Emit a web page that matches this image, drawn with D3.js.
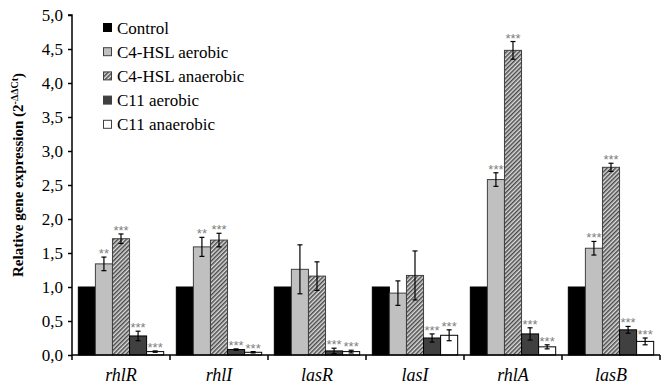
<!DOCTYPE html>
<html><head><meta charset="utf-8">
<script src="https://cdn.jsdelivr.net/npm/d3@7"></script>
<style>body{margin:0;background:#fff}svg{display:block}
.serif{font-family:"Liberation Serif","Times New Roman",serif}</style>
</head><body>
<svg id="chart" width="661" height="386"></svg>
<script>
const genes = ["rhlR","rhlI","lasR","lasI","rhlA","lasB"];
const seriesNames = ["Control","C4-HSL aerobic","C4-HSL anaerobic","C11 aerobic","C11 anaerobic"];
const control     = [1.00,1.00,1.00,1.00,1.00,1.00];
const c4Aerobic   = [1.34,1.59,1.26,0.91,2.58,1.57];
const c4Anaerobic = [1.71,1.69,1.16,1.17,4.48,2.76];
const c11Aerobic  = [0.28,0.08,0.06,0.25,0.31,0.37];
const c11Anaerobic= [0.05,0.04,0.05,0.29,0.12,0.20];
const errControl  = [0,0,0,0,0,0];
const errC4Aer    = [0.10,0.14,0.36,0.18,0.10,0.10];
const errC4Ana    = [0.07,0.10,0.21,0.36,0.13,0.06];
const errC11Aer   = [0.07,0.01,0.04,0.06,0.09,0.05];
const errC11Ana   = [0.01,0.01,0.02,0.08,0.03,0.05];
const sigControl  = ["","","","","",""];
const sigC4Aer    = ["**","**","","","***","***"];
const sigC4Ana    = ["***","***","","","***","***"];
const sigC11Aer   = ["***","***","***","***","***","***"];
const sigC11Ana   = ["***","***","***","***","***","***"];
const yTicks = [0,0.5,1,1.5,2,2.5,3,3.5,4,4.5,5];

const values = [control,c4Aerobic,c4Anaerobic,c11Aerobic,c11Anaerobic];
const errors = [errControl,errC4Aer,errC4Ana,errC11Aer,errC11Ana];
const sigs = [sigControl,sigC4Aer,sigC4Ana,sigC11Aer,sigC11Ana];

const svg = d3.select("#chart");
const defs = svg.append("defs");
const pat = defs.append("pattern").attr("id","hatch").attr("patternUnits","userSpaceOnUse")
  .attr("width",3).attr("height",3).attr("patternTransform","rotate(45)");
pat.append("rect").attr("width",3).attr("height",3).attr("fill","#dcdcdc");
pat.append("line").attr("x1",0.75).attr("y1",0).attr("x2",0.75).attr("y2",3).attr("stroke","#4a4a4a").attr("stroke-width",1.5);

const fills = ["#000000","#c0c0c0","url(#hatch)","#404040","#ffffff"];
const strokes = ["#000000","#404040","#404040","#000000","#000000"];

const mLeft = 72, mRight = 660, mTop = 15, mBottom = 355;
const x = d3.scaleBand().domain(genes).range([mLeft,mRight]).paddingInner(0).paddingOuter(0);
const inner = d3.scaleBand().domain(d3.range(5)).range([0,x.bandwidth()]).paddingInner(0).paddingOuter(0.37);
const y = d3.scaleLinear().domain([0,5]).range([mBottom,mTop]);

// bars
genes.forEach((g,gi)=>{
  const grp = svg.append("g").attr("transform",`translate(${x(g)},0)`);
  for(let s=0;s<5;s++){
    const v = values[s][gi];
    grp.append("rect").attr("x",inner(s)).attr("width",inner.bandwidth())
      .attr("y",y(v)).attr("height",y(0)-y(v))
      .attr("fill",fills[s]).attr("stroke",strokes[s]).attr("stroke-width",1);
    const e = errors[s][gi];
    const cx = inner(s)+inner.bandwidth()/2;
    if(e>0){
      grp.append("line").attr("x1",cx).attr("x2",cx).attr("y1",y(v+e)).attr("y2",y(v-e)).attr("stroke","#000").attr("stroke-width",1.2);
      [v+e,v-e].forEach(t=>grp.append("line").attr("x1",cx-2.5).attr("x2",cx+2.5).attr("y1",y(t)).attr("y2",y(t)).attr("stroke","#000").attr("stroke-width",1.2));
    }
    if(sigs[s][gi]){
      grp.append("text").attr("x",cx).attr("y",y(v+e)+1).attr("text-anchor","middle")
        .attr("style","font-family:'Liberation Sans',Arial,sans-serif;font-size:13px;fill:#808080")
        .text(sigs[s][gi]);
    }
  }
});

// y axis
const yAxis = d3.axisLeft(y).tickValues(yTicks).tickSize(4).tickPadding(5)
  .tickFormat(d=>d3.format(".1f")(d).replace(".",","));
const ya = svg.append("g").attr("transform",`translate(${mLeft},0)`).call(yAxis);
ya.attr("font-family",null).attr("font-size",null);
ya.select(".domain").attr("stroke","#000").attr("stroke-width",1.5).attr("d",`M-4,${mTop}H0V${mBottom}`);
ya.selectAll(".tick line").attr("stroke","#000").attr("stroke-width",1.5);
ya.selectAll("text").attr("class","serif").attr("font-size",17).attr("fill","#000");

// x axis
const xa = svg.append("g").attr("transform",`translate(0,${mBottom})`);
xa.append("line").attr("x1",mLeft).attr("x2",mRight).attr("y1",0).attr("y2",0).attr("stroke","#000").attr("stroke-width",1.5);
const bounds = genes.map(g=>x(g)).concat([x(genes[genes.length-1])+x.bandwidth()]);
xa.selectAll("line.tk").data(bounds).join("line").attr("class","tk")
  .attr("x1",d=>d).attr("x2",d=>d).attr("y1",0).attr("y2",5).attr("stroke","#000").attr("stroke-width",1.5);
xa.selectAll("text").data(genes).join("text").attr("class","serif")
  .attr("x",d=>x(d)+x.bandwidth()/2).attr("y",26).attr("text-anchor","middle")
  .attr("font-style","italic").attr("font-size",18)
  .text(d=>d);

// y label
const yl = svg.append("text").attr("class","serif").attr("transform",`translate(23,175) rotate(-90)`)
  .attr("text-anchor","middle").attr("font-weight","bold").attr("font-size",15);
yl.append("tspan").text("Relative gene expression (2");
yl.append("tspan").attr("dy",-5).attr("font-size",10).text("-ΔΔCt");
yl.append("tspan").attr("dy",5).text(")");

// legend
const lg = svg.append("g").attr("transform","translate(103,28)");
seriesNames.forEach((n,i)=>{
  const row = lg.append("g").attr("transform",`translate(0,${i*24.2})`);
  row.append("rect").attr("x",0.5).attr("y",-4.5).attr("width",8).attr("height",8)
    .attr("fill",fills[i]).attr("stroke",i===0?"#000":"#404040").attr("stroke-width",1);
  row.append("text").attr("class","serif").attr("x",14).attr("y",5.5)
    .attr("font-size",17).text(n);
});
</script>
</body></html>
